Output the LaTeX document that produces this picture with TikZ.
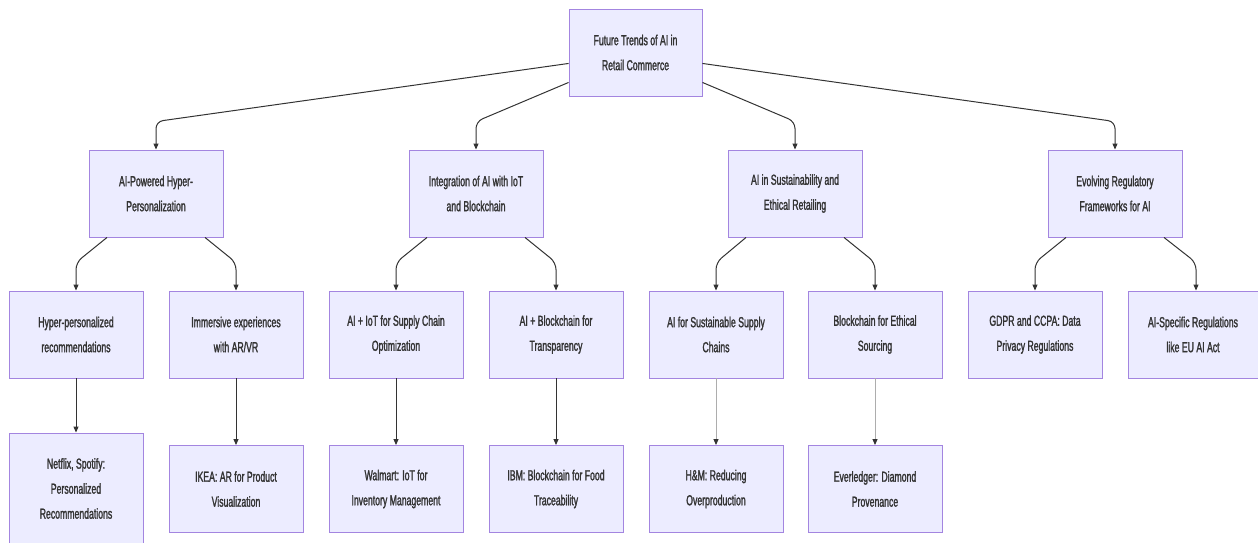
\documentclass[tikz,border=0pt]{standalone}
\usepackage{fontspec}
\setmainfont{Liberation Sans}[FakeStretch=0.6,FakeBold=1.5]
\usetikzlibrary{arrows.meta,calc}
\definecolor{boxfill}{HTML}{ECECFF}
\definecolor{boxline}{HTML}{9370DB}
\definecolor{ink}{HTML}{333333}
\tikzset{
  box/.style={draw=boxline!85, fill=boxfill, line width=0.9pt, rectangle,
    minimum width=134pt, minimum height=87pt, inner sep=0pt, align=center,
    text=ink, font=\fontsize{14.5}{25}\selectfont},
  edge/.style={draw=ink, line width=1pt, rounded corners=7pt,
    -{Triangle[length=6pt,width=5pt]}},
  vedge/.style={draw=ink!40, line width=1pt, -{Triangle[length=6pt,width=5pt,fill=ink,color=ink]}}
}
\begin{document}
\begin{tikzpicture}[x=1pt,y=-1pt]
\useasboundingbox (0,0) rectangle (1258,542);
% root
\node[box, minimum width=133pt] (root) at (635.5,52.5) {Future Trends of AI in\\Retail Commerce};
% level 1
\node[box] (A) at (156,193.5) {AI-Powered Hyper-\\Personalization};
\node[box] (B) at (476,193.5) {Integration of AI with IoT\\and Blockchain};
\node[box] (C) at (795,193.5) {AI in Sustainability and\\Ethical Retailing};
\node[box] (D) at (1115,193.5) {Evolving Regulatory\\Frameworks for AI};
% level 2
\node[box] (A1) at (76,334.5) {Hyper-personalized\\recommendations};
\node[box] (A2) at (236,334.5) {Immersive experiences\\with AR/VR};
\node[box] (B1) at (396,334.5) {AI + IoT for Supply Chain\\Optimization};
\node[box] (B2) at (556,334.5) {AI + Blockchain for\\Transparency};
\node[box] (C1) at (716,334.5) {AI for Sustainable Supply\\Chains};
\node[box] (C2) at (875,334.5) {Blockchain for Ethical\\Sourcing};
\node[box] (D1) at (1035,334.5) {GDPR and CCPA: Data\\Privacy Regulations};
\node[box, minimum width=130pt] (D2) at (1193,334.5) {AI-Specific Regulations\\like EU AI Act};
% level 3
\node[box, minimum height=111pt] (A3) at (76,488.5) {Netflix, Spotify:\\Personalized\\Recommendations};
\node[box] (A4) at (236,489) {IKEA: AR for Product\\Visualization};
\node[box] (B3) at (396,489) {Walmart: IoT for\\Inventory Management};
\node[box] (B4) at (556,489) {IBM: Blockchain for Food\\Traceability};
\node[box] (C3) at (716,489) {H\&M: Reducing\\Overproduction};
\node[box] (C4) at (875,489) {Everledger: Diamond\\Provenance};
% root -> level 1
\draw[edge] ($(root.south west)+(0,-33)$) -- ($(A.north)+(0,-28)$) -- (A.north);
\draw[edge] ($(root.south west)+(0,-14)$) -- ($(B.north)+(0,-28)$) -- (B.north);
\draw[edge] ($(root.south east)+(0,-14)$) -- ($(C.north)+(0,-28)$) -- (C.north);
\draw[edge] ($(root.south east)+(0,-33)$) -- ($(D.north)+(0,-28)$) -- (D.north);
% level 1 -> level 2
\foreach \p/\l/\r in {A/A1/A2, B/B1/B2, C/C1/C2} {
  \draw[edge] ($(\p.south)+(-49,0)$) -- ($(\l.north)+(0,-28)$) -- (\l.north);
  \draw[edge] ($(\p.south)+(49,0)$) -- ($(\r.north)+(0,-28)$) -- (\r.north);
}
\draw[edge] ($(D.south)+(-49,0)$) -- ($(D1.north)+(0,-28)$) -- (D1.north);
\coordinate (D2top) at ($(D2.north)+(3,0)$);
\draw[edge] ($(D.south)+(49,0)$) -- ($(D2top)+(0,-28)$) -- (D2top);
% level 2 -> level 3
\draw[edge] (A1) -- (A3);
\draw[edge] (A2) -- (A4);
\draw[edge] (B1) -- (B3);
\draw[edge] (B2) -- (B4);
\draw[vedge] (C1) -- (C3);
\draw[vedge] (C2) -- (C4);
\end{tikzpicture}
\end{document}
